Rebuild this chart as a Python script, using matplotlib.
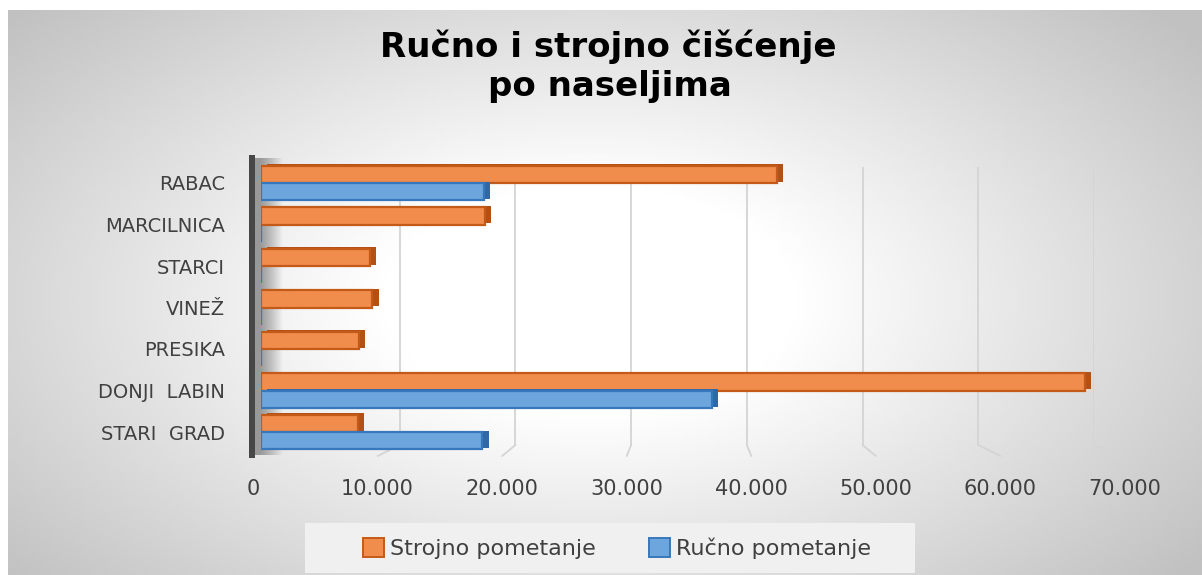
import matplotlib; matplotlib.use("Agg")
import matplotlib.pyplot as plt
import matplotlib.patheffects as pe
from matplotlib.patches import Rectangle, Patch, ConnectionPatch
import numpy as np

# podaci
naselja = ["STARI  GRAD", "DONJI  LABIN", "PRESIKA", "VINEŽ", "STARCI", "MARCILNICA", "RABAC"]
strojno = [7900, 67400, 8000, 9100, 8900, 18300, 42200]
rucno = [18100, 36900, 0, 0, 0, 0, 18200]
x_ticks = [0, 10000, 20000, 30000, 40000, 50000, 60000, 70000]
serije = ["Strojno pometanje", "Ručno pometanje"]

W, H = 1202, 575
ORANGE, ORANGE_D, ORANGE_S = "#f08c4c", "#c45a18", "#b25016"
BLUE, BLUE_D, BLUE_S = "#6ca6dc", "#3777bb", "#3068a5"
TXT = "#404040"

def box(x0, y0, x1, y1):
    # piksel (gore-lijevo ishodiste) -> [l, b, w, h] u figure koordinatama
    return [x0 / W, 1 - y1 / H, (x1 - x0) / W, (y1 - y0) / H]

fig = plt.figure(figsize=(W / 100, H / 100), dpi=100, facecolor="white")

# pozadina - radijalni gradijent
bg = fig.add_axes(box(8, 10, W, H), zorder=0); bg.axis("off")
gx, gy = np.meshgrid(np.linspace(8, W, 400), np.linspace(10, H, 200))
f = np.sqrt(((gx - 590) / 600) ** 2 + ((gy - 300) / 330) ** 2)
v = 255 - 62 * np.clip((f - 0.35) / 0.95, 0, 1)
bg.imshow(np.dstack([v, v, v]).astype(np.uint8), aspect="auto", extent=(0, 1, 0, 1), interpolation="bilinear")
bg.set_xlim(0, 1); bg.set_ylim(0, 1)

# zadnji zid - mreza
back = fig.add_axes(box(284, 167, 1094, 445), zorder=1)
back.patch.set_alpha(0)
back.set_xlim(0, 70000); back.set_ylim(0, 1)
back.set_xticks(x_ticks[1:]); back.set_yticks([])
back.tick_params(length=0, labelbottom=False)
back.grid(axis="x", color="#d4d4d4", lw=1.3)
for s in back.spines.values(): s.set_visible(False)

# prednja os - oznake
front = fig.add_axes(box(253, 456, 1125, 457), zorder=2)
front.patch.set_alpha(0)
front.set_xlim(0, 70000); front.set_ylim(0, 1)
front.set_xticks(x_ticks)
front.set_xticklabels([f"{t:,.0f}".replace(",", ".") for t in x_ticks], fontsize=15, color=TXT)
front.set_yticks([])
front.tick_params(length=0, pad=16)
for s in front.spines.values(): s.set_visible(False)

for t in x_ticks[1:]:
    fig.add_artist(ConnectionPatch(xyA=(t, 0), coordsA=back.transData, xyB=(t, 1), coordsB=front.transData,
                                   color="#d4d4d4", lw=1.3, zorder=1))

# lijevi zid
wall = fig.add_axes(box(255, 158, 284, 455), zorder=1.5); wall.axis("off")
grad = np.zeros((2, 60, 4)); grad[..., :3] = 0.6
grad[..., 3] = np.clip(1.15 - np.linspace(0, 1, 60) ** 1.2 * 1.2, 0, 1)
wall.imshow(grad, aspect="auto", extent=(0, 1, 0, 1), interpolation="bilinear")
fig.add_artist(Rectangle((249 / W, 1 - 458 / H), 6 / W, 303 / H, transform=fig.transFigure,
                         facecolor="#474747", edgecolor="none", zorder=1.6))

# stupci
ax = fig.add_axes(box(261, 162.25, 1117, 452.75), zorder=2)
ax.patch.set_alpha(0)
y = np.arange(len(naselja))
h = 0.42
bo = ax.barh(y + h / 2, strojno, height=h, color=ORANGE, edgecolor=ORANGE_D, lw=1.6)
bb = ax.barh(y - h / 2, rucno, height=h, color=BLUE, edgecolor=BLUE_D, lw=1.6)
for bars, sh in ((bo, ORANGE_S), (bb, BLUE_S)):
    for b in bars:
        if b.get_width() > 0:
            b.set_path_effects([pe.SimplePatchShadow(offset=(4.5, 1), shadow_rgbFace=sh, alpha=1), pe.Normal()])
ax.set_xlim(0, 70000); ax.set_ylim(-0.5, 6.5)
ax.set_xticks([])
ax.set_yticks(y); ax.set_yticklabels(naselja, fontsize=14, color=TXT)
ax.tick_params(axis="y", length=0, pad=26)
for s in ax.spines.values(): s.set_visible(False)

# naslov
fig.text(608 / W, 1 - 57 / H, "Ručno i strojno čišćenje", ha="center", va="baseline",
         fontsize=24.5, weight="bold", family="DejaVu Sans", color="black")
fig.text(610 / W, 1 - 96 / H, "po naseljima", ha="center", va="baseline",
         fontsize=24.5, weight="bold", family="DejaVu Sans", color="black")

# legenda
fig.add_artist(Rectangle((305 / W, 1 - 573 / H), 610 / W, 50 / H, transform=fig.transFigure,
                         facecolor="#f0f0f0", edgecolor="none", zorder=1))
handles = [Patch(facecolor=ORANGE, edgecolor=ORANGE_D, lw=1.4), Patch(facecolor=BLUE, edgecolor=BLUE_D, lw=1.4)]
leg = fig.legend(handles, serije, loc="center", bbox_to_anchor=(617 / W, 1 - 548 / H), ncol=2, frameon=False,
                 fontsize=16, handlelength=0.95, handleheight=0.95, handletextpad=0.25, columnspacing=2.4)
for t in leg.get_texts(): t.set_color(TXT)
leg.set_zorder(3)

fig.savefig("out.png", dpi=100, facecolor="white")
